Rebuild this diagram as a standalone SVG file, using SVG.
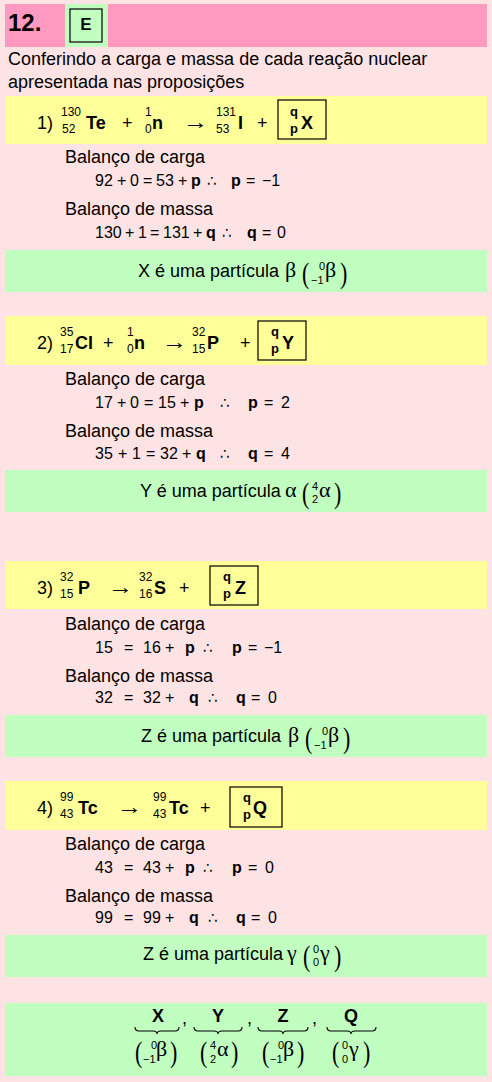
<svg xmlns="http://www.w3.org/2000/svg" width="492" height="1082" viewBox="0 0 492 1082">
<style>
text{font-family:"Liberation Sans",Arial,sans-serif;font-size:18px;fill:#000}
.m{font-size:16px}
.b{font-weight:bold}
.s{font-size:12px}
.sb{font-size:13px;font-weight:bold}
.ss{font-size:11px}
.g{font-family:"Liberation Serif","DejaVu Serif",serif;font-size:22px}
.par{font-family:"Liberation Serif","DejaVu Serif",serif;font-size:22px}
.op{font-family:"DejaVu Sans",sans-serif;font-size:15px}
.ar{font-family:"Liberation Serif","DejaVu Serif",serif;font-size:22px}
.box{fill:none;stroke:#000;stroke-width:1.2}
.yel{fill:#FFFF99}
.grn{fill:#C0FFC0}
.brace{fill:none;stroke:#000;stroke-width:1.1}
</style>
<rect x="0" y="0" width="492" height="1082" fill="#FEE3E5"/>

<g id="header">
<rect x="5" y="4" width="482" height="43" fill="#FF99BF"/>
<rect x="65" y="4" width="43" height="43" class="grn"/>
<rect x="70" y="9" width="32" height="33" class="box"/>
<text x="8" y="31" class="b" style="font-size:24px">12.</text>
<text x="86" y="30" class="b" text-anchor="middle" style="font-size:17px">E</text>
</g>

<g id="intro">
<text x="8" y="65">Conferindo a carga e massa de cada reação nuclear</text>
<text x="8" y="88">apresentada nas proposições</text>
</g>

<g id="sec1">
<rect x="5" y="96" width="482" height="48" class="yel"/>
<text x="37" y="129">1)</text>
<text x="61" y="116" class="s">130</text><text x="62" y="133" class="s">52</text>
<text x="86" y="129" class="b">Te</text>
<text x="122" y="129">+</text>
<text x="145" y="116" class="s">1</text><text x="145" y="133" class="s">0</text>
<text x="152" y="129" class="b">n</text>
<text transform="translate(183,129) scale(1.15,1)" class="ar">→</text>
<text x="216" y="116" class="s">131</text><text x="216" y="133" class="s">53</text>
<text x="238" y="129" class="b">I</text>
<text x="257" y="129">+</text>
<rect x="278" y="100" width="48" height="39" class="box"/>
<text x="290" y="116" class="sb">q</text><text x="290" y="133" class="sb">p</text>
<text x="301" y="129" class="b">X</text>

<text x="65" y="163">Balanço de carga</text>
<text y="186" class="m"><tspan x="95">92</tspan><tspan x="117">+</tspan><tspan x="130">0</tspan><tspan x="143">=</tspan><tspan x="156">53</tspan><tspan x="178">+</tspan><tspan x="191" class="b">p</tspan><tspan x="207" class="op">∴</tspan><tspan x="231" class="b">p</tspan><tspan x="246">=</tspan><tspan x="262">−1</tspan></text>
<text x="65" y="215">Balanço de massa</text>
<text y="238" class="m"><tspan x="95">130</tspan><tspan x="125">+</tspan><tspan x="138">1</tspan><tspan x="150">=</tspan><tspan x="163">131</tspan><tspan x="193">+</tspan><tspan x="206" class="b">q</tspan><tspan x="222" class="op">∴</tspan><tspan x="247" class="b">q</tspan><tspan x="262">=</tspan><tspan x="277">0</tspan></text>

<rect x="5" y="250" width="482" height="42" class="grn"/>
<text x="138" y="277">X é uma partícula</text>
<text x="285" y="277" class="g">β</text>
<text transform="translate(302,283) scale(1,1.3)" class="par">(</text>
<text x="319" y="270" class="ss">0</text><text x="311" y="284" class="ss">−1</text>
<text x="325" y="277" class="g">β</text>
<text transform="translate(340,283) scale(1,1.3)" class="par">)</text>
</g>

<g id="sec2">
<rect x="5" y="316" width="482" height="49" class="yel"/>
<text x="37" y="349">2)</text>
<text x="60" y="336" class="s">35</text><text x="60" y="353" class="s">17</text>
<text x="75" y="349" class="b">Cl</text>
<text x="103" y="349">+</text>
<text x="127" y="336" class="s">1</text><text x="127" y="353" class="s">0</text>
<text x="134" y="349" class="b">n</text>
<text transform="translate(162,349) scale(1.15,1)" class="ar">→</text>
<text x="192" y="336" class="s">32</text><text x="192" y="353" class="s">15</text>
<text x="207" y="349" class="b">P</text>
<text x="240" y="349">+</text>
<rect x="258" y="321" width="48" height="39" class="box"/>
<text x="271" y="336" class="sb">q</text><text x="271" y="353" class="sb">p</text>
<text x="282" y="349" class="b">Y</text>

<text x="65" y="385">Balanço de carga</text>
<text y="408" class="m"><tspan x="95">17</tspan><tspan x="117">+</tspan><tspan x="130">0</tspan><tspan x="144">=</tspan><tspan x="158">15</tspan><tspan x="180">+</tspan><tspan x="194" class="b">p</tspan><tspan x="220" class="op">∴</tspan><tspan x="248" class="b">p</tspan><tspan x="264">=</tspan><tspan x="281">2</tspan></text>
<text x="65" y="437">Balanço de massa</text>
<text y="459" class="m"><tspan x="95">35</tspan><tspan x="118">+</tspan><tspan x="132">1</tspan><tspan x="146">=</tspan><tspan x="160">32</tspan><tspan x="182">+</tspan><tspan x="196" class="b">q</tspan><tspan x="220" class="op">∴</tspan><tspan x="248" class="b">q</tspan><tspan x="264">=</tspan><tspan x="281">4</tspan></text>

<rect x="5" y="470" width="482" height="42" class="grn"/>
<text x="140" y="497">Y é uma partícula</text>
<text x="285" y="497" class="g">α</text>
<text transform="translate(302,503) scale(1,1.3)" class="par">(</text>
<text x="312" y="490" class="ss">4</text><text x="312" y="503" class="ss">2</text>
<text x="319" y="497" class="g">α</text>
<text transform="translate(334,503) scale(1,1.3)" class="par">)</text>
</g>

<g id="sec3">
<rect x="5" y="561" width="482" height="48" class="yel"/>
<text x="37" y="594">3)</text>
<text x="60" y="581" class="s">32</text><text x="60" y="598" class="s">15</text>
<text x="78" y="594" class="b">P</text>
<text transform="translate(108,594) scale(1.15,1)" class="ar">→</text>
<text x="139" y="581" class="s">32</text><text x="139" y="598" class="s">16</text>
<text x="154" y="594" class="b">S</text>
<text x="179" y="594">+</text>
<rect x="210" y="566" width="48" height="39" class="box"/>
<text x="223" y="581" class="sb">q</text><text x="223" y="598" class="sb">p</text>
<text x="235" y="594" class="b">Z</text>

<text x="65" y="630">Balanço de carga</text>
<text y="653" class="m"><tspan x="95">15</tspan><tspan x="124">=</tspan><tspan x="143">16</tspan><tspan x="165">+</tspan><tspan x="185" class="b">p</tspan><tspan x="203" class="op">∴</tspan><tspan x="232" class="b">p</tspan><tspan x="248">=</tspan><tspan x="264">−1</tspan></text>
<text x="65" y="682">Balanço de massa</text>
<text y="703" class="m"><tspan x="95">32</tspan><tspan x="124">=</tspan><tspan x="143">32</tspan><tspan x="165">+</tspan><tspan x="189" class="b">q</tspan><tspan x="208" class="op">∴</tspan><tspan x="236" class="b">q</tspan><tspan x="251">=</tspan><tspan x="268">0</tspan></text>

<rect x="5" y="715" width="482" height="42" class="grn"/>
<text x="141" y="742">Z é uma partícula</text>
<text x="288" y="742" class="g">β</text>
<text transform="translate(305,748) scale(1,1.3)" class="par">(</text>
<text x="322" y="735" class="ss">0</text><text x="314" y="749" class="ss">−1</text>
<text x="328" y="742" class="g">β</text>
<text transform="translate(343,748) scale(1,1.3)" class="par">)</text>
</g>

<g id="sec4">
<rect x="5" y="781" width="482" height="49" class="yel"/>
<text x="37" y="814">4)</text>
<text x="60" y="801" class="s">99</text><text x="60" y="818" class="s">43</text>
<text x="78" y="814" class="b">Tc</text>
<text transform="translate(117,814) scale(1.15,1)" class="ar">→</text>
<text x="153" y="801" class="s">99</text><text x="153" y="818" class="s">43</text>
<text x="169" y="814" class="b">Tc</text>
<text x="200" y="814">+</text>
<rect x="230" y="787" width="52" height="40" class="box"/>
<text x="243" y="802" class="sb">q</text><text x="243" y="819" class="sb">p</text>
<text x="253" y="814" class="b">Q</text>

<text x="65" y="850">Balanço de carga</text>
<text y="873" class="m"><tspan x="95">43</tspan><tspan x="124">=</tspan><tspan x="143">43</tspan><tspan x="165">+</tspan><tspan x="185" class="b">p</tspan><tspan x="203" class="op">∴</tspan><tspan x="232" class="b">p</tspan><tspan x="248">=</tspan><tspan x="265">0</tspan></text>
<text x="65" y="902">Balanço de massa</text>
<text y="923" class="m"><tspan x="95">99</tspan><tspan x="124">=</tspan><tspan x="143">99</tspan><tspan x="165">+</tspan><tspan x="189" class="b">q</tspan><tspan x="208" class="op">∴</tspan><tspan x="236" class="b">q</tspan><tspan x="251">=</tspan><tspan x="268">0</tspan></text>

<rect x="5" y="935" width="482" height="42" class="grn"/>
<text x="143" y="960">Z é uma partícula</text>
<text x="287" y="960" class="g">γ</text>
<text transform="translate(303,966) scale(1,1.3)" class="par">(</text>
<text x="313" y="953" class="ss">0</text><text x="313" y="966" class="ss">0</text>
<text x="320" y="960" class="g">γ</text>
<text transform="translate(334,966) scale(1,1.3)" class="par">)</text>
</g>

<g id="summary">
<rect x="5" y="1003" width="482" height="73" class="grn"/>
<text x="158" y="1022" class="b" text-anchor="middle">X</text>
<text x="182" y="1024">,</text>
<text x="218" y="1022" class="b" text-anchor="middle">Y</text>
<text x="247" y="1024">,</text>
<text x="283" y="1022" class="b" text-anchor="middle">Z</text>
<text x="312" y="1024">,</text>
<text x="351" y="1022" class="b" text-anchor="middle">Q</text>
<path class="brace" d="M135,1027 q0,4 4,4 H153 q4,0 4,3 q0,-3 4,-3 H175 q4,0 4,-4"/>
<path class="brace" d="M194,1027 q0,4 4,4 H214 q4,0 4,3 q0,-3 4,-3 H238 q4,0 4,-4"/>
<path class="brace" d="M258,1027 q0,4 4,4 H279 q4,0 4,3 q0,-3 4,-3 H304 q4,0 4,-4"/>
<path class="brace" d="M327,1027 q0,4 4,4 H347 q4,0 4,3 q0,-3 4,-3 H372 q4,0 4,-4"/>

<text transform="translate(135,1062) scale(1,1.3)" class="par">(</text>
<text x="151" y="1049" class="ss">0</text><text x="143" y="1063" class="ss">−1</text>
<text x="156" y="1056" class="g">β</text>
<text transform="translate(170,1062) scale(1,1.3)" class="par">)</text>

<text transform="translate(200,1062) scale(1,1.3)" class="par">(</text>
<text x="210" y="1049" class="ss">4</text><text x="210" y="1063" class="ss">2</text>
<text x="217" y="1056" class="g">α</text>
<text transform="translate(231,1062) scale(1,1.3)" class="par">)</text>

<text transform="translate(262,1062) scale(1,1.3)" class="par">(</text>
<text x="278" y="1049" class="ss">0</text><text x="270" y="1063" class="ss">−1</text>
<text x="283" y="1056" class="g">β</text>
<text transform="translate(297,1062) scale(1,1.3)" class="par">)</text>

<text transform="translate(332,1062) scale(1,1.3)" class="par">(</text>
<text x="342" y="1049" class="ss">0</text><text x="342" y="1063" class="ss">0</text>
<text x="349" y="1056" class="g">γ</text>
<text transform="translate(363,1062) scale(1,1.3)" class="par">)</text>
</g>
</svg>
